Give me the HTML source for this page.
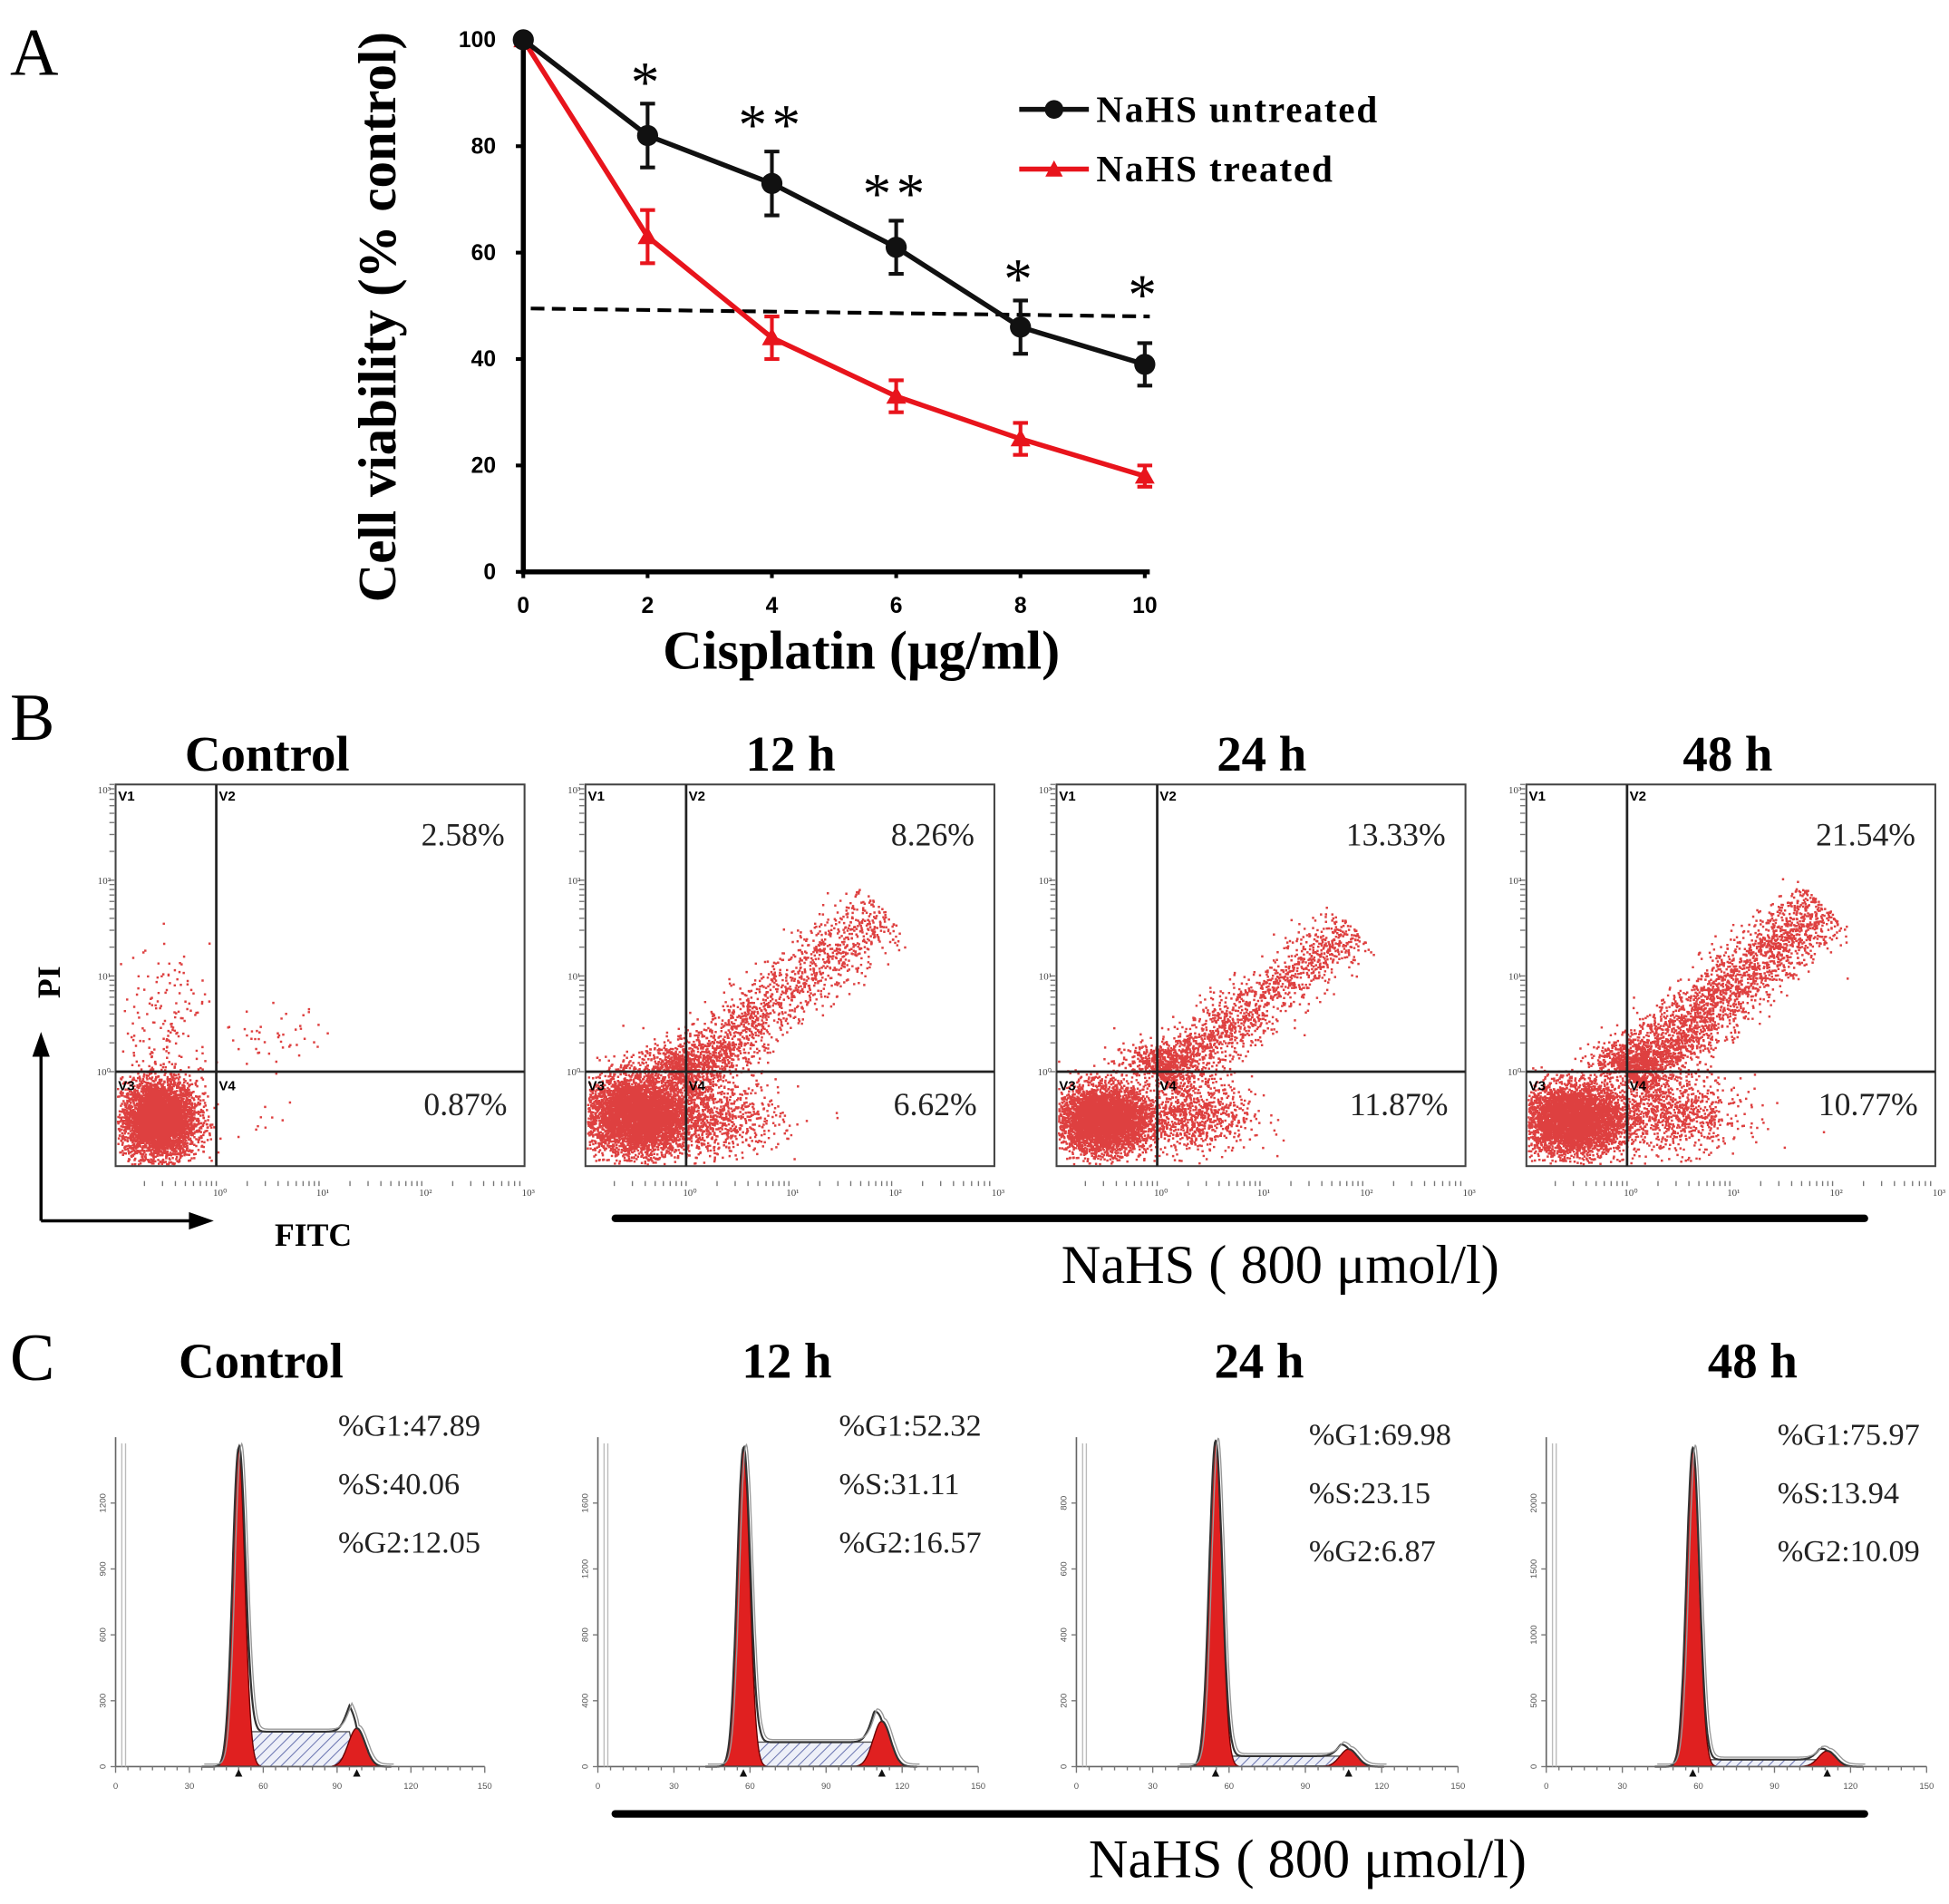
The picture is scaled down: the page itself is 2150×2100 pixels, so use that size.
<!DOCTYPE html>
<html><head><meta charset="utf-8"><style>
html,body{margin:0;padding:0;background:#fff}
svg{display:block}
.serif{font-family:"Liberation Serif",serif}
.sans{font-family:"Liberation Sans",sans-serif}
</style></head><body>
<svg id="fig" width="2150" height="2100" viewBox="0 0 1568 1531.5" preserveAspectRatio="none" xmlns="http://www.w3.org/2000/svg">
<defs>
<pattern id="hatch" width="6" height="6" patternUnits="userSpaceOnUse" patternTransform="rotate(45)">
<rect width="6" height="6" fill="#eef0f8"/><line x1="0" y1="0" x2="0" y2="6" stroke="#6a74b0" stroke-width="1.5"/></pattern>
</defs>
<g id="panelA"></g>
<g id="panelB"></g>
<g id="panelC"></g>
</svg>
<script>
// ===== Panel A data =====
const doses = [0, 2, 4, 6, 8, 10];
const untreated = [100, 82, 73, 61, 46, 39];
const untreatedErr = [0, 6, 6, 5, 5, 4];
const treated = [100, 63, 44, 33, 25, 18];
const treatedErr = [0, 5, 4, 3, 3, 2];
const yTicks = [0, 20, 40, 60, 80, 100];
const xTicks = [0, 2, 4, 6, 8, 10];
const stars = ["", "*", "**", "**", "*", "*"];
const starLevel = [0, 94, 86, 73, 57, 54];
const dashedLevel = [49.5, 48];

// ===== Panel B data =====
const bTitles = ["Control", "12 h", "24 h", "48 h"];
const bUpper = ["2.58%", "8.26%", "13.33%", "21.54%"];
const bLower = ["0.87%", "6.62%", "11.87%", "10.77%"];
// clusters in decade units: [cx, cy, sx, sy, n]
const bClusters = [
  [[0.42,0.5,0.18,0.2,4500],[0.5,1.5,0.22,0.4,160],[1.55,1.35,0.25,0.15,45],[1.5,0.5,0.12,0.1,8]],
  [[0.5,0.55,0.25,0.2,5000],[1.2,0.5,0.35,0.2,900],[0.95,1.1,0.25,0.12,400]],
  [[0.45,0.5,0.22,0.17,4500],[1.3,0.55,0.3,0.2,900],[0.95,1.1,0.2,0.1,300]],
  [[0.45,0.5,0.25,0.18,4500],[1.4,0.55,0.35,0.2,900],[1.0,1.1,0.22,0.12,400]]
];
// diagonal tails: [x0,y0,x1,y1,n,width]
const bTails = [
  [],
  [[0.9,0.9,2.9,2.7,1700,0.17]],
  [[1.0,0.95,2.9,2.5,1600,0.15]],
  [[1.0,0.95,2.9,2.75,2800,0.17]]
];

// ===== Panel C data =====
const cTitles = ["Control", "12 h", "24 h", "48 h"];
const g1Pct = ["47.89", "52.32", "69.98", "75.97"];
const sPct = ["40.06", "31.11", "23.15", "13.94"];
const g2Pct = ["12.05", "16.57", "6.87", "10.09"];
const g1Mean = [50, 57.4, 54.7, 57.8];
const g1Height = [0.91, 0.91, 0.93, 0.91];
const g2Mean = [98, 112, 107, 110.8];
const g2Height = [0.11, 0.13, 0.05, 0.045];
const sLevel = [0.10, 0.07, 0.03, 0.02];

const NS = "http://www.w3.org/2000/svg";
function mk(parent, tag, attrs, text){
  const e = document.createElementNS(NS, tag);
  for (const k in attrs) e.setAttribute(k, attrs[k]);
  if (text !== undefined) e.textContent = text;
  parent.appendChild(e); return e;
}
let seed = 12345;
function rnd(){ seed = (seed * 1103515245 + 12345) % 2147483648; return seed / 2147483648; }
function gauss(){ let u = rnd() || 1e-9, v = rnd(); return Math.sqrt(-2*Math.log(u))*Math.cos(2*Math.PI*v); }

// ===== Panel A =====
(function(){
  const g = document.getElementById('panelA');
  const X0 = 421, X1 = 921, Y0 = 460, Y1 = 32;
  const xs = v => X0 + (v - 0) / 10 * (X1 - X0);
  const ys = v => Y0 - v / 100 * (Y0 - Y1);
  let t = mk(g,'text',{x:8,y:60,'font-size':54,class:'serif'},'A');
   
  let ax = mk(g,'path',{d:`M${X0},${Y1-6} V${Y0} H${X1+4}`,stroke:'#000','stroke-width':4,fill:'none'});
   
  yTicks.forEach(v=>{
    mk(g,'line',{x1:X0-6,x2:X0,y1:ys(v),y2:ys(v),stroke:'#000','stroke-width':3});
    const l = mk(g,'text',{x:X0-22,y:ys(v)+6,'font-size':18,'font-weight':'bold','text-anchor':'end',class:'sans'},v);
     
  });
  xTicks.forEach(v=>{
    mk(g,'line',{x1:xs(v),x2:xs(v),y1:Y0,y2:Y0+5,stroke:'#000','stroke-width':3});
    const l = mk(g,'text',{x:xs(v),y:Y0+33,'font-size':18,'font-weight':'bold','text-anchor':'middle',class:'sans'},v);
     
  });
  let yt = mk(g,'text',{x:0,y:0,transform:`translate(318,255) rotate(-90)`,'font-size':43,'font-weight':'bold','text-anchor':'middle',class:'serif'},'Cell viability (% control)');
   
  let xt = mk(g,'text',{x:693,y:538,'font-size':44,'font-weight':'bold','text-anchor':'middle',class:'serif'},'Cisplatin (μg/ml)');
   
  let dl = mk(g,'line',{x1:427,x2:925,y1:ys(dashedLevel[0]),y2:ys(dashedLevel[1]),stroke:'#000','stroke-width':3,'stroke-dasharray':'11,6'});
   
  function series(vals, errs, color, marker, name){
    const sg = mk(g,'g',{});
     
    mk(sg,'polyline',{points:vals.map((v,i)=>xs(doses[i])+','+ys(v)).join(' '),stroke:color,'stroke-width':4,fill:'none'});
    vals.forEach((v,i)=>{
      const x = xs(doses[i]), y = ys(v);
      if (errs[i] > 0){
        const e = mk(sg,'path',{d:`M${x},${ys(v-errs[i])}V${ys(v+errs[i])}M${x-6},${ys(v-errs[i])}h12M${x-6},${ys(v+errs[i])}h12`,stroke:color,'stroke-width':3,fill:'none'});
         
      }
      let m;
      if (marker==='circle') m = mk(sg,'circle',{cx:x,cy:y,r:8.5,fill:color});
      else m = mk(sg,'path',{d:`M${x},${y-8}L${x+8},${y+6}L${x-8},${y+6}Z`,fill:color});
       
    });
  }
  series(treated, treatedErr, '#e8141c', 'tri', 'series-nahs-treated');
  series(untreated, untreatedErr, '#111', 'circle', 'series-nahs-untreated');
  stars.forEach((s,i)=>{
    if(!s) return;
    const st = mk(g,'text',{x:xs(doses[i]),y:ys(starLevel[i])+24,'font-size':46,'text-anchor':'middle',class:'serif','letter-spacing':'4'},s);
     
  });
  const lg = mk(g,'g',{});  
  const e1 = mk(lg,'g',{});  
  mk(e1,'line',{x1:820,x2:876,y1:88,y2:88,stroke:'#111','stroke-width':4});
  mk(e1,'circle',{cx:848,cy:88,r:7.5,fill:'#111'});
  mk(e1,'text',{x:882,y:98,'font-size':30,'font-weight':'bold',class:'serif','textLength':226},'NaHS untreated');
  const e2 = mk(lg,'g',{});  
  mk(e2,'line',{x1:820,x2:876,y1:136,y2:136,stroke:'#e8141c','stroke-width':4});
  mk(e2,'path',{d:'M848,129L855,142L841,142Z',fill:'#e8141c'});
  mk(e2,'text',{x:882,y:146,'font-size':30,'font-weight':'bold',class:'serif','textLength':190},'NaHS treated');
})();

// ===== Panel B =====
(function(){
  const g = document.getElementById('panelB');
  const lefts = [93, 471, 850, 1228];
  const W = 329, TOP = 631, BOT = 938, QY = 862;
  const titleX = [215, 636, 1015, 1390];
  let t = mk(g,'text',{x:8,y:595,'font-size':54,class:'serif'},'B');
   
  for (let p=0;p<4;p++){
    const L = lefts[p], R = L+W;
    const pg = mk(g,'g',{});  
    const tt = mk(pg,'text',{x:titleX[p],y:620,'font-size':40,'font-weight':'bold','text-anchor':'middle',class:'serif'},bTitles[p]);
     
    const QX = L + 81;
    const dx = W/4.0, dy = (BOT-TOP)/4.0;
    const sx = d => L + d*dx, sy = d => BOT - d*dy;
    let path = '';
    function dot(x,y){ if(x<L+1||x>R-2||y<TOP+1||y>BOT-2) return; path += `M${x.toFixed(1)} ${y.toFixed(1)}h1.8v1.8h-1.8z`; }
    bClusters[p].forEach(c=>{ for(let i=0;i<c[4];i++) dot(sx(c[0]+gauss()*c[2]), sy(c[1]+gauss()*c[3])); });
    bTails[p].forEach(c=>{ for(let i=0;i<c[4];i++){ const u = Math.pow(rnd(),1.4); const w = gauss()*c[5];
      const x = c[0]+(c[2]-c[0])*u + w*0.7, y = c[1]+(c[3]-c[1])*u - w*0.7; dot(sx(x), sy(y)); } });
    const dp = mk(pg,'path',{d:path,fill:'#d81e1e','fill-opacity':0.85});
     
    mk(pg,'rect',{x:L,y:TOP,width:W,height:BOT-TOP,fill:'none',stroke:'#444','stroke-width':1.5});
    mk(pg,'line',{x1:QX,x2:QX,y1:TOP,y2:BOT,stroke:'#222','stroke-width':2});
    mk(pg,'line',{x1:L,x2:R,y1:QY,y2:QY,stroke:'#222','stroke-width':2});
    [['V1',L+2,TOP+13],['V2',QX+2,TOP+13],['V3',L+2,QY+15],['V4',QX+2,QY+15]].forEach(v=>{
      const q = mk(pg,'text',{x:v[1],y:v[2],'font-size':11,'font-weight':'bold',class:'sans'},v[0]);
       
    });
    for (let d=0; d<4; d++){
      for (let k=1;k<10;k++){ const y = QY - (Math.log10(k))*(QY-TOP)/3 - d*(QY-TOP)/3; if(y<TOP) break;
        mk(pg,'line',{x1:L-5,x2:L-1,y1:y,y2:y,stroke:'#777','stroke-width':1}); }
    }
    ['10⁰','10¹','10²','10³'].forEach((s,i)=>{
      const y = QY - i*(QY-TOP)/3 - (i==3?-4:0);
      const q = mk(pg,'text',{x:L-4,y:y+3,'font-size':8,'text-anchor':'end',class:'serif',fill:'#444'},s);
       
      const xx = QX + i*(R-QX)/3;
      const q2 = mk(pg,'text',{x:xx+3,y:BOT+24,'font-size':8,'text-anchor':'middle',class:'serif',fill:'#444'},s);
       
      for (let k=1;k<10;k++){ const x = QX - (R-QX)/3 + Math.log10(k)*(R-QX)/3 + i*(R-QX)/3; if(x<L||x>R) continue;
        mk(pg,'line',{x1:x,x2:x,y1:BOT+12,y2:BOT+16,stroke:'#777','stroke-width':1}); }
    });
    const u = mk(pg,'text',{x:R-16,y:680,'font-size':26,'text-anchor':'end',class:'serif',fill:'#222'},bUpper[p]);
     
    const lo = mk(pg,'text',{x:R-14,y:897,'font-size':26,'text-anchor':'end',class:'serif',fill:'#222'},bLower[p]);
     
  }
  const ar = mk(g,'path',{d:'M33,982V840M33,982H160',stroke:'#000','stroke-width':2.5,fill:'none'});
   
  mk(g,'path',{d:'M33,830L26,850L40,850Z',fill:'#000'});
  mk(g,'path',{d:'M172,982L152,975L152,989Z',fill:'#000'});
  let pi = mk(g,'text',{x:0,y:0,transform:'translate(48,790) rotate(-90)','font-size':26,'font-weight':'bold','text-anchor':'middle',class:'serif'},'PI');
   
  let fi = mk(g,'text',{x:252,y:1002,'font-size':26,'font-weight':'bold','text-anchor':'middle',class:'serif'},'FITC');
   
  let bar = mk(g,'line',{x1:495,x2:1500,y1:980,y2:980,stroke:'#000','stroke-width':6,'stroke-linecap':'round'});
   
  let nb = mk(g,'text',{x:1030,y:1032,'font-size':44,'text-anchor':'middle',class:'serif'},'NaHS ( 800 μmol/l)');
   
})();

// ===== Panel C =====
(function(){
  const g = document.getElementById('panelC');
  const axL = [93, 481, 866, 1244], axW = [297, 306, 307, 306];
  const titleX = [210, 633, 1013, 1410];
  const statX = [272, 675, 1053, 1430];
  const statY = [1155, 1155, 1162, 1162];
  const BASE = 1421, H = 281;
  let t = mk(g,'text',{x:8,y:1110,'font-size':54,class:'serif'},'C');
   
  const yTickSets = [['0','300','600','900','1200'],['0','400','800','1200','1600'],['0','200','400','600','800'],['0','500','1000','1500','2000']];
  for (let p=0;p<4;p++){
    const L = axL[p], W = axW[p];
    const pg = mk(g,'g',{});  
    const tt = mk(pg,'text',{x:titleX[p],y:1108,'font-size':40,'font-weight':'bold','text-anchor':'middle',class:'serif'},cTitles[p]);
     
    const xs = c => L + c/150*W, ys = f => BASE - f*H;
    const sd1 = 2.5, sd2 = 3.4;
    const g1 = c => g1Height[p]*Math.exp(-0.5*Math.pow((c-g1Mean[p])/sd1,2));
    const g2 = c => g2Height[p]*Math.exp(-0.5*Math.pow((c-g2Mean[p])/sd2,2));
    const sF = c => { const a=g1Mean[p], b=g2Mean[p]; if(c<a||c>b) return 0; const e=Math.min(1,(c-a)/3,(b-c)/3); return sLevel[p]*e; };
    let d1='',d2='',ds='',tot='';
    for (let c=g1Mean[p]-9; c<=g1Mean[p]+9; c+=0.25) d1 += (d1?'L':'M')+xs(c).toFixed(1)+','+ys(g1(c)).toFixed(1);
    for (let c=g2Mean[p]-10; c<=g2Mean[p]+10; c+=0.25) d2 += (d2?'L':'M')+xs(c).toFixed(1)+','+ys(g2(c)).toFixed(1);
    for (let c=g1Mean[p]; c<=g2Mean[p]; c+=0.5) ds += (ds?'L':'M')+xs(c).toFixed(1)+','+ys(sF(c)).toFixed(1);
    for (let c=g1Mean[p]-15; c<=g2Mean[p]+14; c+=0.25) tot += (tot?'L':'M')+xs(c).toFixed(1)+','+ys(g1(c)+g2(c)+sF(c)+0.015*Math.exp(-Math.pow((c-g1Mean[p]-4)/3,2))).toFixed(1);
    const sp = mk(pg,'path',{d:ds+'Z',fill:'url(#hatch)',stroke:'#555','stroke-width':1});
     
    const p1 = mk(pg,'path',{d:d1+'Z',fill:'#e02020',stroke:'#600','stroke-width':1});
     
    const p2 = mk(pg,'path',{d:d2+'Z',fill:'#e02020',stroke:'#600','stroke-width':1});
     
    const tl = mk(pg,'path',{d:tot,fill:'none',stroke:'#333','stroke-width':1.6});
     
    mk(pg,'path',{d:tot,fill:'none',stroke:'#999','stroke-width':1,transform:'translate(2,-2)'});
    mk(pg,'path',{d:`M${L},${BASE-265}V${BASE}H${L+W}`,stroke:'#666','stroke-width':1.2,fill:'none'});
    mk(pg,'path',{d:`M${L+5},${BASE-260}V${BASE}M${L+8},${BASE-260}V${BASE}`,stroke:'#bbb','stroke-width':1,fill:'none'});
    for (let c=0;c<=150;c+=5) mk(pg,'line',{x1:xs(c),x2:xs(c),y1:BASE,y2:BASE+(c%30==0?5:3),stroke:'#777','stroke-width':1});
    for (let c=0;c<=150;c+=30){ const q = mk(pg,'text',{x:xs(c),y:BASE+18,'font-size':7,'text-anchor':'middle',class:'sans',fill:'#555'},c);
        }
    yTickSets[p].forEach((s,i)=>{ const y = BASE - i*53;
      mk(pg,'line',{x1:L-4,x2:L,y1:y,y2:y,stroke:'#777','stroke-width':1});
      const q = mk(pg,'text',{x:0,y:0,transform:`translate(${L-8},${y}) rotate(-90)`,'font-size':7,'text-anchor':'middle',class:'sans',fill:'#555'},s);
        });
    mk(pg,'path',{d:`M${xs(g1Mean[p])},${BASE+2}l-3,6h6z M${xs(g2Mean[p])},${BASE+2}l-3,6h6z`,fill:'#111'});
    [['%G1:',g1Pct[p]],['%S:',sPct[p]],['%G2:',g2Pct[p]]].forEach((r,i)=>{
      const q = mk(pg,'text',{x:statX[p],y:statY[p]+i*47,'font-size':25,class:'serif',fill:'#222'},r[0]+r[1]);
       
    });
  }
  let bar = mk(g,'line',{x1:495,x2:1500,y1:1459,y2:1459,stroke:'#000','stroke-width':6,'stroke-linecap':'round'});
   
  let nb = mk(g,'text',{x:1052,y:1510,'font-size':44,'text-anchor':'middle',class:'serif'},'NaHS ( 800 μmol/l)');
   
})();
</script>
</body></html>
